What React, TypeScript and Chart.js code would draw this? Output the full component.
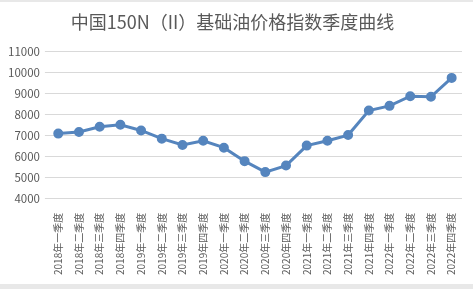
import React, { useEffect, useRef } from "react";
import { Chart, registerables } from "chart.js";

Chart.register(...registerables);

const titleText = "中国150N（II）基础油价格指数季度曲线";
const categories = [
  "2018年一季度", "2018年二季度", "2018年三季度", "2018年四季度",
  "2019年一季度", "2019年二季度", "2019年三季度", "2019年四季度",
  "2020年一季度", "2020年二季度", "2020年三季度", "2020年四季度",
  "2021年一季度", "2021年二季度", "2021年三季度", "2021年四季度",
  "2022年一季度", "2022年二季度", "2022年三季度", "2022年四季度",
];
const indexValues = [
  7100, 7180, 7430, 7520, 7250, 6860, 6560, 6760, 6430, 5790,
  5270, 5580, 6530, 6760, 7030, 8200, 8420, 8880, 8850, 9750,
];
const yMin = 4000;
const yMax = 11000;
const yStep = 1000;

const FONT = "'Noto Sans CJK SC', 'Noto Sans', sans-serif";
const TEXT = "#595959";
const W = 473;
const H = 282;

export default function App() {
  const ref = useRef<HTMLCanvasElement | null>(null);
  useEffect(() => {
    if (!ref.current) return;
    const chart = new Chart(ref.current, {
      type: "line",
      data: {
        labels: categories,
        datasets: [
          {
            data: indexValues,
            borderColor: "#5585be",
            backgroundColor: "#5585be",
            borderWidth: 3,
            pointRadius: 3.5,
            pointBackgroundColor: "#5585be",
            pointBorderColor: "#5585be",
            tension: 0,
          },
        ],
      },
      options: {
        animation: false,
        responsive: false,
        maintainAspectRatio: false,
        layout: { padding: { left: 3, right: 11, top: 0, bottom: 3 } },
        plugins: {
          legend: { display: false },
          tooltip: { enabled: false },
          title: {
            display: true,
            text: titleText,
            color: TEXT,
            font: { family: FONT, size: 18, weight: "normal" },
            padding: { top: 9, bottom: 19 },
          },
        },
        scales: {
          x: {
            offset: true,
            grid: { display: false },
            border: { display: false },
            ticks: {
              color: TEXT,
              font: { family: FONT, size: 10 },
              maxRotation: 90,
              minRotation: 90,
              autoSkip: false,
              padding: 6,
            },
          },
          y: {
            min: yMin,
            max: yMax,
            grid: { color: "#d9d9d9", lineWidth: 1, drawTicks: true, tickLength: 3 },
            border: { display: false },
            ticks: {
              stepSize: yStep,
              color: TEXT,
              font: { family: FONT, size: 11.5 },
              padding: 5,
              callback: (v: any) => String(v),
            },
          },
        },
      },
    });
    return () => chart.destroy();
  }, []);
  return (
    <div style={{ position: "absolute", left: 0, top: 0, width: W, height: 289, background: "#e8e8e8" }}>
      <canvas
        ref={ref}
        width={W}
        height={H}
        style={{ position: "absolute", left: 0, top: 2, width: W, height: H, background: "#fff" }}
      />
    </div>
  );
}
